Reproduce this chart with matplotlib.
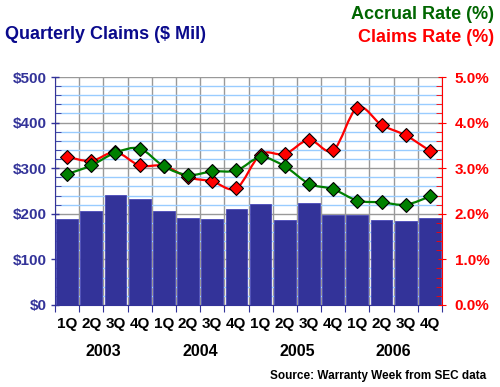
import matplotlib.pyplot as plt
import numpy as np
from matplotlib.path import Path
from matplotlib.patches import PathPatch
from matplotlib.ticker import MultipleLocator, FuncFormatter

plt.rcParams['font.family'] = ['Liberation Sans', 'DejaVu Sans']
plt.rcParams['font.weight'] = 'bold'

quarters = ['1Q', '2Q', '3Q', '4Q'] * 4
years = ['2003', '2004', '2005', '2006']
claims = [189, 206, 241, 232, 206, 191, 189, 211,
          222, 187, 224, 198, 198, 187, 185, 191]
accrual_rate = [2.87, 3.06, 3.34, 3.43, 3.04, 2.85, 2.93, 2.95,
                3.24, 3.04, 2.66, 2.54, 2.29, 2.25, 2.20, 2.38]
claims_rate = [3.25, 3.16, 3.35, 3.06, 3.05, 2.80, 2.71, 2.56,
               3.30, 3.31, 3.62, 3.39, 4.33, 3.95, 3.72, 3.38]

navy = '#333399'


def smooth_path(xs, ys):
    # Excel-style smoothed line: cubic bezier through the points
    xs = np.asarray(xs, float)
    ys = np.asarray(ys, float)
    verts = [(xs[0], ys[0])]
    codes = [Path.MOVETO]
    n = len(xs)
    for i in range(n - 1):
        p0 = (xs[max(i - 1, 0)], ys[max(i - 1, 0)])
        p1 = (xs[i], ys[i])
        p2 = (xs[i + 1], ys[i + 1])
        p3 = (xs[min(i + 2, n - 1)], ys[min(i + 2, n - 1)])
        c1 = (p1[0] + (p2[0] - p0[0]) / 6, p1[1] + (p2[1] - p0[1]) / 6)
        c2 = (p2[0] - (p3[0] - p1[0]) / 6, p2[1] - (p3[1] - p1[1]) / 6)
        verts += [c1, c2, p2]
        codes += [Path.CURVE4] * 3
    return Path(verts, codes)


fig = plt.figure(figsize=(5, 3.87), dpi=100)
ax = fig.add_axes([0.11, 0.212, 0.774, 0.589])
x = np.arange(len(claims))

ax.set_axisbelow(True)
ax.bar(x, claims, width=0.9, color=navy, edgecolor='#4a4ab8', linewidth=0.6, zorder=2)
ax.set_xlim(-0.5, len(claims) - 0.5)
ax.set_ylim(0, 500)
ax.yaxis.set_major_locator(MultipleLocator(100))
ax.yaxis.set_minor_locator(MultipleLocator(20))
ax.yaxis.set_major_formatter(FuncFormatter(lambda v, p: '$%d' % v))
ax.grid(axis='y', which='minor', color='#99CCFF', linewidth=1)
ax.grid(axis='y', which='major', color='#999999', linewidth=1)
ax.set_xticks(np.arange(-0.5, len(claims), 1), minor=False)
ax.set_xticklabels([])
ax.set_xticks(x, minor=True)
ax.set_xticklabels(quarters, minor=True)
ax.grid(axis='x', which='major', color='#999999', linewidth=1)
ax.tick_params(axis='x', which='major', length=5, direction='out', color=navy)
ax.tick_params(axis='x', which='minor', length=0, labelsize=11, pad=9)
ax.tick_params(axis='y', which='major', length=6, direction='inout', color=navy,
               labelcolor=navy, labelsize=11, width=1, pad=3)
ax.tick_params(axis='y', which='minor', length=4, direction='in', color=navy)
for s in ['top', 'right']:
    ax.spines[s].set_visible(False)
ax.spines['left'].set_color(navy)
ax.spines['bottom'].set_color(navy)

ax2 = ax.twinx()
ax2.set_ylim(0, 5)
ax2.yaxis.set_major_locator(MultipleLocator(1))
ax2.yaxis.set_minor_locator(MultipleLocator(0.2))
ax2.yaxis.set_major_formatter(FuncFormatter(lambda v, p: '%.1f%%' % v))
ax2.tick_params(axis='y', which='major', length=6, direction='inout', color='red',
                labelcolor='red', labelsize=11, pad=6)
ax2.tick_params(axis='y', which='minor', length=4, direction='in', color='red')
for s in ['top', 'left', 'bottom']:
    ax2.spines[s].set_visible(False)
ax2.spines['right'].set_color('red')

ax2.add_patch(PathPatch(smooth_path(x, claims_rate), fill=False, edgecolor='red', lw=1.6, zorder=3))
ax2.plot(x, claims_rate, ls='none', marker='D', ms=7, mfc='red', mec='black', mew=0.8, zorder=4)
ax2.add_patch(PathPatch(smooth_path(x, accrual_rate), fill=False, edgecolor='#008000', lw=1.6, zorder=5))
ax2.plot(x, accrual_rate, ls='none', marker='D', ms=7, mfc='#008000', mec='black', mew=0.8, zorder=6)

for i, yr in enumerate(years):
    ax.text(i * 4 + 1.5, -0.205, yr, transform=ax.get_xaxis_transform(), ha='center',
            va='center', fontsize=11.5)

fig.text(0.01, 0.912, 'Quarterly Claims ($ Mil)', color='#0A0A8C', fontsize=13,
         ha='left', va='center')
fig.text(0.988, 0.963, 'Accrual Rate (%)', color='#006600', fontsize=13, ha='right', va='center')
fig.text(0.988, 0.902, 'Claims Rate (%)', color='red', fontsize=13, ha='right', va='center')
fig.text(0.972, 0.028, 'Source: Warranty Week from SEC data', fontsize=8.5, ha='right', va='center')

plt.savefig('out.png', dpi=100)
